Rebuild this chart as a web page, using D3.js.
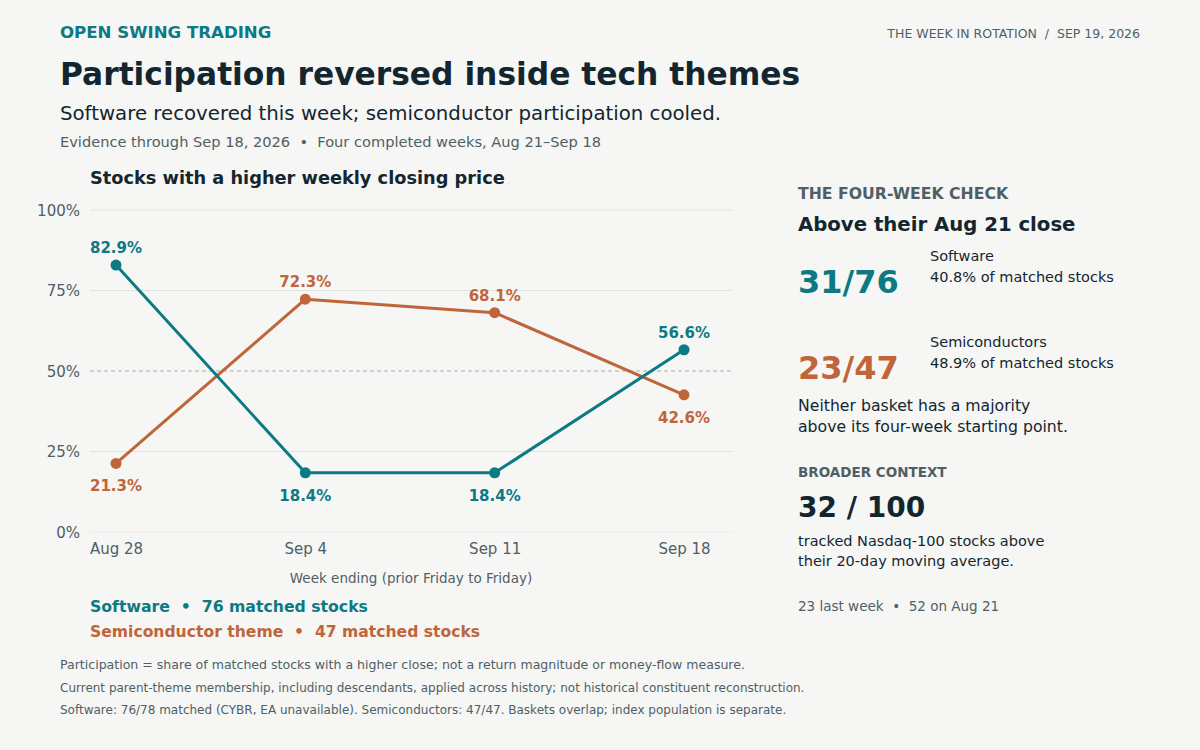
<!DOCTYPE html>
<html lang="en">
<head>
<meta charset="utf-8">
<title>Participation reversed inside tech themes</title>
<script src="https://cdn.jsdelivr.net/npm/d3@7"></script>
<style>
  body { margin: 0; background: #f6f6f4; }
  svg { display: block; font-family: "DejaVu Sans", sans-serif; }
</style>
</head>
<body>
<script>
// Data
var weeks = ["Aug 28", "Sep 4", "Sep 11", "Sep 18"];
var software = [82.9, 18.4, 18.4, 56.6];
var semis = [21.3, 72.3, 68.1, 42.6];
var yTicks = [0, 25, 50, 75, 100];
// label above (-1) or below (+1) each point
var softwareLabelPos = [-1, 1, 1, -1];
var semisLabelPos = [1, -1, -1, 1];

var w = 1200, h = 750;
var teal = "#0b7a84", orange = "#c0653a", dark = "#13262f", grey = "#4f5f66";

var svg = d3.select("body").append("svg")
  .attr("width", w).attr("height", h);
svg.append("rect").attr("width", w).attr("height", h).attr("fill", "#f6f6f4");

function text(x, y, str, size, color, weight, anchor) {
  return svg.append("text")
    .attr("x", x).attr("y", y)
    .attr("font-size", size)
    .attr("fill", color)
    .attr("font-weight", weight || "normal")
    .attr("text-anchor", anchor || "start")
    .style("white-space", "pre")
    .text(str);
}

// Header
text(60, 38, "OPEN SWING TRADING", 16.6, teal, "bold");
text(1140, 38, "THE WEEK IN ROTATION  /  SEP 19, 2026", 12.5, grey, "normal", "end");
text(60, 85, "Participation reversed inside tech themes", 31.3, dark, "bold");
text(60, 120, "Software recovered this week; semiconductor participation cooled.", 19.75, dark);
text(60, 147, "Evidence through Sep 18, 2026  \u2022  Four completed weeks, Aug 21\u2013Sep 18", 14.6, grey);

// Chart
text(90, 184, "Stocks with a higher weekly closing price", 17.75, dark, "bold");

var x = d3.scalePoint().domain(weeks).range([116, 684]);
var y = d3.scaleLinear().domain([0, 100]).range([532, 210]);
var gridL = 90, gridR = 732;

var grid = svg.append("g");
grid.selectAll("line").data(yTicks.filter(function(d) { return d !== 50; }))
  .enter().append("line")
  .attr("x1", gridL).attr("x2", gridR)
  .attr("y1", function(d) { return y(d); })
  .attr("y2", function(d) { return y(d); })
  .attr("stroke", function(d) { return d === 0 ? "#ececea" : "#e2e2e0"; })
  .attr("stroke-width", 1);
grid.append("line")
  .attr("x1", gridL).attr("x2", gridR)
  .attr("y1", y(50)).attr("y2", y(50))
  .attr("stroke", "#a9adaf").attr("stroke-width", 1)
  .attr("stroke-dasharray", "4,3");

var yAxis = d3.axisLeft(y).tickValues(yTicks)
  .tickFormat(function(d) { return d + "%"; }).tickSize(0).tickPadding(0);
var gy = svg.append("g").attr("transform", "translate(80,0)").call(yAxis);
gy.select(".domain").remove();
gy.selectAll("text").attr("font-size", 15).attr("fill", grey)
  .attr("font-family", "DejaVu Sans, sans-serif").attr("dy", "0.35em");

var xAxis = d3.axisBottom(x).tickSize(0).tickPadding(0);
var gx = svg.append("g").attr("transform", "translate(0,543)").call(xAxis);
gx.select(".domain").remove();
gx.selectAll("text").attr("font-size", 15).attr("fill", grey)
  .attr("font-family", "DejaVu Sans, sans-serif");

text(411, 583, "Week ending (prior Friday to Friday)", 13.5, grey, "normal", "middle");

var line = d3.line()
  .x(function(d, i) { return x(weeks[i]); })
  .y(function(d) { return y(d); });

function drawSeries(values, color, pos) {
  svg.append("path").datum(values)
    .attr("d", line).attr("fill", "none")
    .attr("stroke", color).attr("stroke-width", 3)
    .attr("stroke-linejoin", "round");
  svg.append("g").selectAll("circle").data(values).enter().append("circle")
    .attr("cx", function(d, i) { return x(weeks[i]); })
    .attr("cy", function(d) { return y(d); })
    .attr("r", 5.5).attr("fill", color);
  svg.append("g").selectAll("text").data(values).enter().append("text")
    .attr("x", function(d, i) { return x(weeks[i]); })
    .attr("y", function(d, i) { return y(d) + (pos[i] < 0 ? -12 : 28); })
    .attr("text-anchor", "middle")
    .attr("font-size", 15).attr("font-weight", "bold").attr("fill", color)
    .text(function(d) { return d.toFixed(1) + "%"; });
}
drawSeries(semis, orange, semisLabelPos);
drawSeries(software, teal, softwareLabelPos);

// Legend
text(90, 612, "Software  \u2022  76 matched stocks", 15.7, teal, "bold");
text(90, 637, "Semiconductor theme  \u2022  47 matched stocks", 15.6, orange, "bold");

// Footnotes
var notes = [
  "Participation = share of matched stocks with a higher close; not a return magnitude or money-flow measure.",
  "Current parent-theme membership, including descendants, applied across history; not historical constituent reconstruction.",
  "Software: 76/78 matched (CYBR, EA unavailable). Semiconductors: 47/47. Baskets overlap; index population is separate."
];
var noteSizes = [12.55, 12, 12];
notes.forEach(function(n, i) { text(60, 669 + i * 22.5, n, noteSizes[i], grey); });

// Right panel
var px = 798;
text(px, 199, "THE FOUR-WEEK CHECK", 15.7, grey, "bold");
text(px, 231, "Above their Aug 21 close", 19.7, dark, "bold");
text(px, 293, "31/76", 32, teal, "bold");
text(930, 261, "Software", 14.5, dark);
text(930, 282, "40.8% of matched stocks", 14.5, dark);
text(px, 379, "23/47", 32, orange, "bold");
text(930, 347, "Semiconductors", 14.5, dark);
text(930, 368, "48.9% of matched stocks", 14.5, dark);
text(px, 411, "Neither basket has a majority", 15.7, dark);
text(px, 432, "above its four-week starting point.", 15.7, dark);
text(px, 477, "BROADER CONTEXT", 13.5, grey, "bold");
text(px, 517, "32 / 100", 28, dark, "bold");
text(px, 546, "tracked Nasdaq-100 stocks above", 14.5, dark);
text(px, 566, "their 20-day moving average.", 14.5, dark);
text(px, 611, "23 last week  \u2022  52 on Aug 21", 13.5, grey);
</script>
</body>
</html>
